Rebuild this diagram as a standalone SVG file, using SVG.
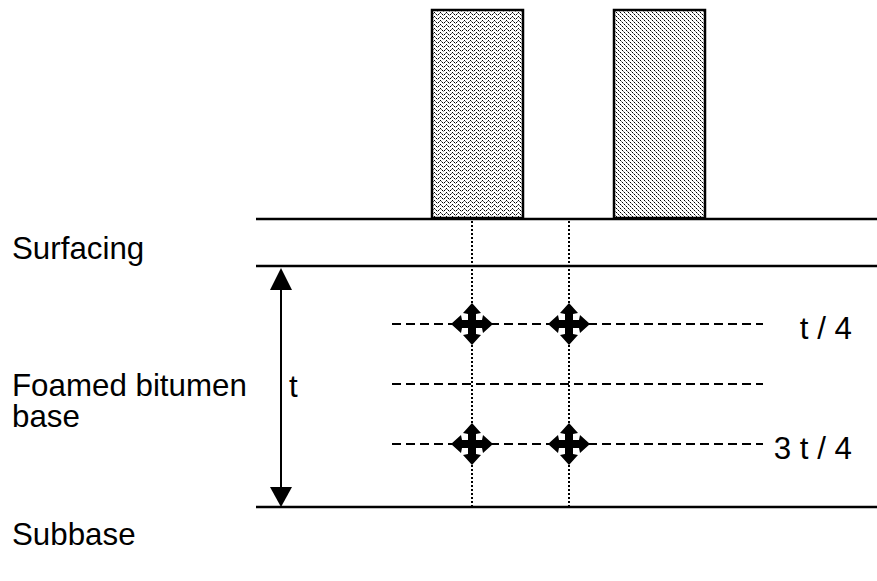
<svg xmlns="http://www.w3.org/2000/svg" width="877" height="581" viewBox="0 0 877 581">
  <defs>
    <!-- stipple fills for the two load blocks -->
    <pattern id="chevron" width="6" height="4" patternUnits="userSpaceOnUse">
      <rect width="6" height="4" fill="#ffffff"/>
      <rect x="2" y="0" width="1" height="1" fill="#000"/>
      <rect x="1" y="1" width="1" height="1" fill="#666"/>
      <rect x="3" y="1" width="1" height="1" fill="#666"/>
      <rect x="0" y="2" width="1" height="1" fill="#000"/>
      <rect x="4" y="2" width="1" height="1" fill="#000"/>
      <rect x="5" y="3" width="1" height="1" fill="#999"/>
    </pattern>
    <pattern id="diagonal" width="4" height="4" patternUnits="userSpaceOnUse">
      <rect width="4" height="4" fill="#ffffff"/>
      <rect x="0" y="0" width="1" height="1" fill="#000"/>
      <rect x="1" y="1" width="1" height="1" fill="#888"/>
      <rect x="2" y="2" width="1" height="1" fill="#000"/>
      <rect x="3" y="3" width="1" height="1" fill="#888"/>
    </pattern>
    <!-- four-way arrow marker -->
    <polygon id="cross" points="0,-21 9,-11 4,-10 4,-4 10,-4 11,-9 21,0 11,9 10,4 4,4 4,10 9,11 0,21 -9,11 -4,10 -4,4 -10,4 -11,9 -21,0 -11,-9 -10,-4 -4,-4 -4,-10 -9,-11" fill="#000"/>
    <style>
      .label { font-family: "Liberation Sans", Arial, sans-serif; font-size: 31px; fill: #000; }
      .layer { stroke: #000; stroke-width: 2.5; fill: none; }
      .dash { stroke: #000; stroke-width: 2; stroke-dasharray: 9 5; fill: none; }
      .dot { stroke: #000; stroke-width: 2; stroke-dasharray: 2 2; fill: none; }
      .block { stroke: #000; stroke-width: 2.5; }
    </style>
  </defs>

  <rect width="877" height="581" fill="#fff"/>

  <!-- wheel loads -->
  <g id="load-left"><rect class="block" x="432" y="10" width="91" height="208" fill="url(#chevron)"/></g>
  <g id="load-right"><rect class="block" x="614" y="10" width="91" height="208" fill="url(#diagonal)"/></g>

  <!-- layer boundaries -->
  <g id="layers">
    <line class="layer" x1="256" y1="219" x2="877" y2="219"/>
    <line class="layer" x1="256" y1="266" x2="877" y2="266"/>
    <line class="layer" x1="256" y1="507" x2="877" y2="507"/>
  </g>

  <!-- depth reference lines -->
  <g id="connectors">
    <line class="dot" x1="472" y1="221" x2="472" y2="506"/>
    <line class="dot" x1="569" y1="221" x2="569" y2="506"/>
    <line class="dash" x1="392" y1="324" x2="763" y2="324"/>
    <line class="dash" x1="392" y1="384" x2="763" y2="384"/>
    <line class="dash" x1="392" y1="444" x2="763" y2="444"/>
    <!-- thickness dimension -->
    <line x1="281" y1="285" x2="281" y2="490" stroke="#000" stroke-width="2"/>
    <polygon points="281,268 270,290 292,290" fill="#000"/>
    <polygon points="281,507 270,487 292,487" fill="#000"/>
  </g>

  <!-- stress points -->
  <g id="point-1"><use href="#cross" x="472" y="324"/></g>
  <g id="point-2"><use href="#cross" x="569" y="324"/></g>
  <g id="point-3"><use href="#cross" x="472" y="444"/></g>
  <g id="point-4"><use href="#cross" x="569" y="444"/></g>

  <!-- labels -->
  <g id="labels">
    <text class="label" transform="translate(12 259) scale(1.01 1)">Surfacing</text>
    <text class="label" transform="translate(12 396) scale(1.01 1)">Foamed bitumen</text>
    <text class="label" transform="translate(12 427) scale(1.01 1)">base</text>
    <text class="label" transform="translate(12 545) scale(1.01 1)">Subbase</text>
    <text class="label" transform="translate(289 397) scale(1.01 1)">t</text>
    <text class="label" text-anchor="end" transform="translate(852 339) scale(1.01 1)">t / 4</text>
    <text class="label" text-anchor="end" transform="translate(852 459) scale(1.01 1)">3 t / 4</text>
  </g>
</svg>
